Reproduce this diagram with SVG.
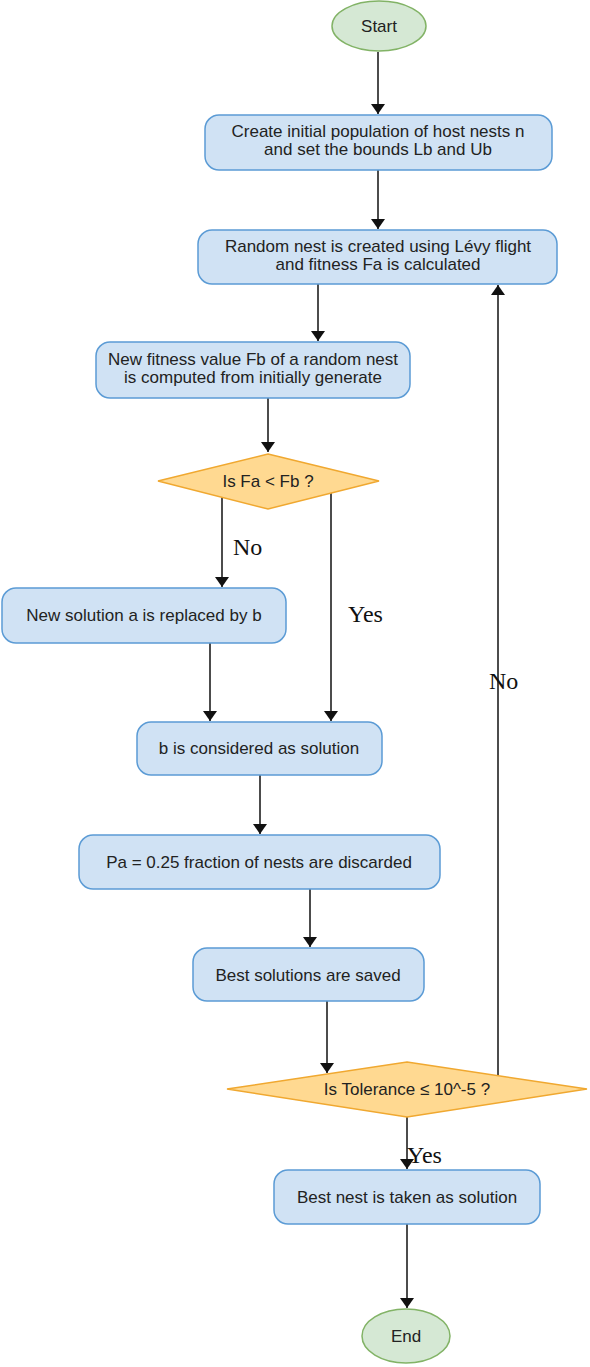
<svg xmlns="http://www.w3.org/2000/svg" width="590" height="1367" viewBox="0 0 590 1367">
<style>
.box{fill:#d0e2f4;stroke:#5b9bd5;stroke-width:1.5}
.dia{fill:#ffd991;stroke:#f0a830;stroke-width:1.5}
.ell{fill:#d5e8d4;stroke:#82b366;stroke-width:1.5}
.t{font-family:"Liberation Sans",Arial,sans-serif;font-size:17px;fill:#222;text-anchor:middle}
.lbl{font-family:"Liberation Serif","Times New Roman",serif;font-size:24px;fill:#111}
.c{stroke:#111;stroke-width:1.5;fill:none;marker-end:url(#ah)}
</style>
<defs>
<marker id="ah" viewBox="0 0 10 14" refX="10" refY="7" markerWidth="10" markerHeight="14" markerUnits="userSpaceOnUse" orient="auto">
<path d="M0,0 L10,7 L0,14 Z" fill="#111"/>
</marker>
</defs>
<g id="connectors">
<line class="c" x1="378" y1="52" x2="378" y2="114"/>
<line class="c" x1="378" y1="170" x2="378" y2="229"/>
<line class="c" x1="318" y1="284" x2="318" y2="341"/>
<line class="c" x1="268" y1="398" x2="268" y2="452"/>
<line class="c" x1="222" y1="497" x2="222" y2="587"/>
<line class="c" x1="331" y1="493" x2="331" y2="721"/>
<line class="c" x1="210" y1="643" x2="210" y2="721"/>
<line class="c" x1="260" y1="775" x2="260" y2="834"/>
<line class="c" x1="310" y1="889" x2="310" y2="947"/>
<line class="c" x1="327" y1="1001" x2="327" y2="1073"/>
<line class="c" x1="498" y1="1076" x2="498" y2="285"/>
<line class="c" x1="407" y1="1117" x2="407" y2="1169"/>
<line class="c" x1="407" y1="1224" x2="407" y2="1308"/>
<text class="lbl" x="233" y="555">No</text>
<text class="lbl" x="348" y="622">Yes</text>
<text class="lbl" x="489" y="689">No</text>
<text class="lbl" x="407" y="1163">Yes</text>
</g>
<g id="start">
<ellipse class="ell" cx="379" cy="26" rx="47" ry="25"/>
<text class="t" x="379" y="32">Start</text>
</g>
<g id="init">
<rect class="box" x="205" y="115" width="347" height="55" rx="14"/>
<text class="t" x="378" y="137">Create initial population of host nests n</text>
<text class="t" x="378" y="155">and set the bounds Lb and Ub</text>
</g>
<g id="random">
<rect class="box" x="198" y="230" width="359" height="54" rx="14"/>
<text class="t" x="378" y="252">Random nest is created using Lévy flight</text>
<text class="t" x="378" y="270">and fitness Fa is calculated</text>
</g>
<g id="newfit">
<rect class="box" x="96" y="342" width="314" height="56" rx="14"/>
<text class="t" x="253" y="365">New fitness value Fb of a random nest</text>
<text class="t" x="253" y="383">is computed from initially generate</text>
</g>
<g id="cmp">
<polygon class="dia" points="268,454 379,481 268,509 158,481"/>
<text class="t" x="268" y="487">Is Fa &lt; Fb ?</text>
</g>
<g id="replace">
<rect class="box" x="2" y="588" width="284" height="55" rx="14"/>
<text class="t" x="144" y="621">New solution a is replaced by b</text>
</g>
<g id="bsol">
<rect class="box" x="137" y="722" width="245" height="53" rx="14"/>
<text class="t" x="259" y="754">b is considered as solution</text>
</g>
<g id="pa">
<rect class="box" x="79" y="835" width="361" height="54" rx="14"/>
<text class="t" x="259" y="868">Pa = 0.25 fraction of nests are discarded</text>
</g>
<g id="best">
<rect class="box" x="193" y="948" width="231" height="53" rx="14"/>
<text class="t" x="308" y="981">Best solutions are saved</text>
</g>
<g id="tol">
<polygon class="dia" points="407,1062 587,1089 407,1117 227,1089"/>
<text class="t" x="407" y="1095">Is Tolerance ≤ 10^-5 ?</text>
</g>
<g id="bestnest">
<rect class="box" x="274" y="1170" width="266" height="54" rx="14"/>
<text class="t" x="407" y="1203">Best nest is taken as solution</text>
</g>
<g id="end">
<ellipse class="ell" cx="406" cy="1336" rx="44" ry="27"/>
<text class="t" x="406" y="1342">End</text>
</g>
</svg>
